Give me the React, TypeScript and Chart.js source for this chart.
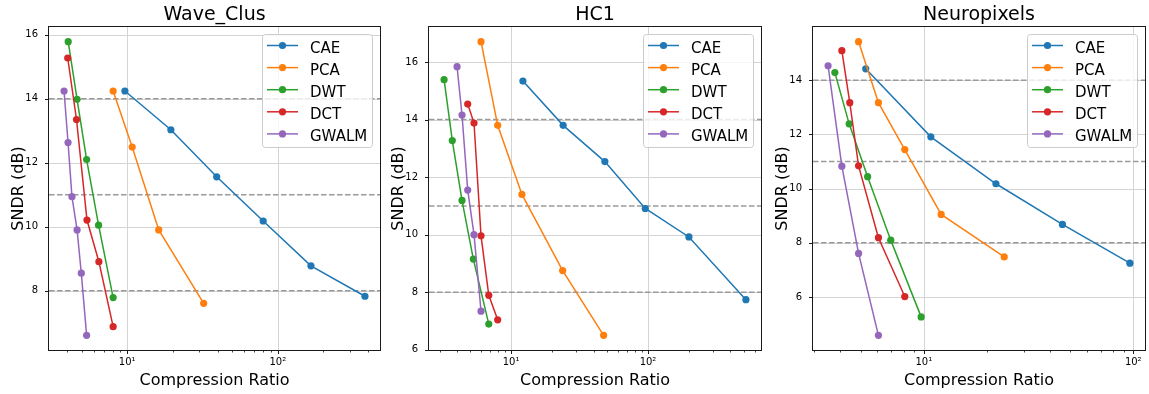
import React, { useEffect, useRef } from "react";
import { Chart, registerables } from "chart.js";

Chart.register(...registerables);

const FONT = "'DejaVu Sans', 'Liberation Sans', sans-serif";
const H = 394;

const METHODS = ["CAE", "PCA", "DWT", "DCT", "GWALM"];
const COLORS = ["#1f77b4", "#ff7f0e", "#2ca02c", "#d62728", "#9467bd"];
const THRESHOLDS = [8, 11, 14];
const X_MAJOR_TICKS = [10, 100];
const X_MAJOR_LABELS = ["10\u00b9", "10\u00b2"];
const Y_LABEL = "SNDR (dB)";
const X_LABEL = "Compression Ratio";

// Wave_Clus
const WC_CAE_CR = [9.66, 19.5, 39.3, 80, 166, 379];
const WC_CAE_SNDR = [14.24, 13.03, 11.56, 10.18, 8.78, 7.83];
const WC_PCA_CR = [8.07, 10.8, 16.2, 32.2];
const WC_PCA_SNDR = [14.24, 12.49, 9.9, 7.61];
const WC_DWT_CR = [4.06, 4.65, 5.38, 6.46, 8.07];
const WC_DWT_SNDR = [15.78, 13.98, 12.1, 10.05, 7.79];
const WC_DCT_CR = [4.03, 4.61, 5.41, 6.49, 8.07];
const WC_DCT_SNDR = [15.27, 13.35, 10.21, 8.91, 6.88];
const WC_GWALM_CR = [3.81, 4.05, 4.3, 4.65, 4.96, 5.38];
const WC_GWALM_SNDR = [14.24, 12.63, 10.94, 9.9, 8.55, 6.61];
const WC_Y_TICKS = [8, 10, 12, 14, 16];

// HC1
const HC_CAE_CR = [12.2, 24.0, 48.4, 95.5, 199, 519];
const HC_CAE_SNDR = [15.34, 13.8, 12.54, 10.91, 9.92, 7.74];
const HC_PCA_CR = [6.03, 7.98, 12.0, 23.8, 47.4];
const HC_PCA_SNDR = [16.71, 13.8, 11.4, 8.75, 6.5];
const HC_DWT_CR = [3.24, 3.72, 4.38, 5.3, 6.87];
const HC_DWT_SNDR = [15.39, 13.27, 11.19, 9.15, 6.89];
const HC_DCT_CR = [4.82, 5.36, 6.03, 6.87, 7.98];
const HC_DCT_SNDR = [14.54, 13.88, 9.96, 7.89, 7.04];
const HC_GWALM_CR = [4.03, 4.38, 4.82, 5.36, 6.03];
const HC_GWALM_SNDR = [15.84, 14.16, 11.55, 10.0, 7.34];
const HC_Y_TICKS = [6, 8, 10, 12, 14, 16];

// Neuropixels
const NP_CAE_CR = [5.28, 10.8, 22.1, 45.9, 96.4];
const NP_CAE_SNDR = [14.42, 11.91, 10.18, 8.68, 7.25];
const NP_PCA_CR = [4.88, 6.07, 8.11, 12.1, 24.2];
const NP_PCA_SNDR = [15.42, 13.17, 11.44, 9.05, 7.48];
const NP_DWT_CR = [3.76, 4.4, 5.39, 6.95, 9.71];
const NP_DWT_SNDR = [14.28, 12.39, 10.44, 8.1, 5.27];
const NP_DCT_CR = [4.06, 4.43, 4.88, 6.07, 8.11];
const NP_DCT_SNDR = [15.09, 13.17, 10.84, 8.19, 6.02];
const NP_GWALM_CR = [3.49, 4.06, 4.88, 6.07];
const NP_GWALM_SNDR = [14.53, 10.83, 7.61, 4.59];
const NP_Y_TICKS = [6, 8, 10, 12, 14];

type Series = { cr: number[]; sndr: number[] };

type PanelProps = {
  left: number;
  width: number;
  plotLeft: number;
  plotRight: number;
  plotTop: number;
  plotBottom: number;
  title: string;
  series: Series[];
  yTicks: number[];
};

function Panel(p: PanelProps) {
  const ref = useRef<HTMLCanvasElement>(null);
  useEffect(() => {
    const allX = p.series.flatMap((s) => s.cr);
    const allY = p.series.flatMap((s) => s.sndr);
    const lx0 = Math.log10(Math.min(...allX));
    const lx1 = Math.log10(Math.max(...allX));
    const mx = (lx1 - lx0) * 0.05;
    const xMin = Math.pow(10, lx0 - mx);
    const xMax = Math.pow(10, lx1 + mx);
    const y0 = Math.min(...allY);
    const y1 = Math.max(...allY);
    const my = (y1 - y0) * 0.05;
    const yMin = y0 - my;
    const yMax = y1 + my;

    const minor: number[] = [];
    for (let k = Math.floor(Math.log10(xMin)); k <= Math.ceil(Math.log10(xMax)); k++) {
      for (let m = 2; m <= 9; m++) {
        const v = m * Math.pow(10, k);
        if (v > xMin && v < xMax) minor.push(v);
      }
    }
    const majors = X_MAJOR_TICKS.filter((v) => v > xMin && v < xMax);
    const xTicks = [...minor, ...majors].sort((a, b) => a - b);

    const deco = {
      id: "deco",
      beforeDatasetsDraw(chart: any) {
        const { ctx, chartArea: a, scales } = chart;
        const x = scales.x;
        const y = scales.y;
        ctx.save();
        ctx.strokeStyle = "#d4d4d4";
        ctx.lineWidth = 1;
        ctx.beginPath();
        for (const v of majors) {
          const px = Math.round(x.getPixelForValue(v)) + 0.5;
          ctx.moveTo(px, a.top);
          ctx.lineTo(px, a.bottom);
        }
        for (const v of p.yTicks) {
          const py = Math.round(y.getPixelForValue(v)) + 0.5;
          ctx.moveTo(a.left, py);
          ctx.lineTo(a.right, py);
        }
        ctx.stroke();
        ctx.setLineDash([5.5, 2.5]);
        ctx.strokeStyle = "#9a9a9a";
        ctx.lineWidth = 1.5;
        ctx.beginPath();
        for (const t of THRESHOLDS) {
          const py = y.getPixelForValue(t);
          ctx.moveTo(a.left, py);
          ctx.lineTo(a.right, py);
        }
        ctx.stroke();
        ctx.restore();
      },
      afterDatasetsDraw(chart: any) {
        const { ctx, chartArea: a, scales } = chart;
        const x = scales.x;
        const y = scales.y;
        ctx.save();
        // border
        ctx.strokeStyle = "#1a1a1a";
        ctx.lineWidth = 1;
        ctx.strokeRect(a.left - 0.5, a.top - 0.5, a.right - a.left + 1, a.bottom - a.top + 1);
        // tick marks
        ctx.beginPath();
        for (const v of p.yTicks) {
          const py = Math.round(y.getPixelForValue(v)) + 0.5;
          ctx.moveTo(a.left - 4, py);
          ctx.lineTo(a.left, py);
        }
        for (const v of majors) {
          const px = Math.round(x.getPixelForValue(v)) + 0.5;
          ctx.moveTo(px, a.bottom);
          ctx.lineTo(px, a.bottom + 4);
        }
        ctx.stroke();
        ctx.lineWidth = 0.8;
        ctx.beginPath();
        for (const v of minor) {
          const px = Math.round(x.getPixelForValue(v)) + 0.5;
          ctx.moveTo(px, a.bottom);
          ctx.lineTo(px, a.bottom + 2.5);
        }
        ctx.stroke();
        // titles
        ctx.fillStyle = "#000";
        ctx.textAlign = "center";
        ctx.textBaseline = "alphabetic";
        ctx.font = `19px ${FONT}`;
        ctx.fillText(p.title, (a.left + a.right) / 2, 20);
        ctx.font = `16px ${FONT}`;
        ctx.fillText(X_LABEL, (a.left + a.right) / 2, a.bottom + 35);
        ctx.save();
        ctx.translate(a.left - 26, (a.top + a.bottom) / 2);
        ctx.rotate(-Math.PI / 2);
        ctx.fillText(Y_LABEL, 0, 0);
        ctx.restore();
        // legend
        const bw = 110;
        const bh = 113;
        const bx = a.right - 8 - bw;
        const by = a.top + 7;
        ctx.beginPath();
        (ctx as any).roundRect(bx + 0.5, by + 0.5, bw, bh, 3);
        ctx.fillStyle = "rgba(255,255,255,0.8)";
        ctx.fill();
        ctx.strokeStyle = "#cccccc";
        ctx.lineWidth = 1;
        ctx.stroke();
        ctx.font = `15px ${FONT}`;
        ctx.textAlign = "left";
        METHODS.forEach((m, i) => {
          const cy = by + 11.5 + i * 22.1;
          ctx.strokeStyle = COLORS[i];
          ctx.lineWidth = 1.5;
          ctx.beginPath();
          ctx.moveTo(bx + 5, cy);
          ctx.lineTo(bx + 36, cy);
          ctx.stroke();
          ctx.fillStyle = COLORS[i];
          ctx.beginPath();
          ctx.arc(bx + 20.5, cy, 3.6, 0, Math.PI * 2);
          ctx.fill();
          ctx.fillStyle = "#000";
          ctx.fillText(m, bx + 48, cy + 7);
        });
        ctx.restore();
      },
    };

    const chart = new Chart(ref.current as HTMLCanvasElement, {
      type: "scatter",
      data: {
        datasets: p.series.map((s, i) => ({
          label: METHODS[i],
          data: s.cr.map((c, j) => ({ x: c, y: s.sndr[j] })),
          showLine: true,
          borderColor: COLORS[i],
          backgroundColor: COLORS[i],
          pointBackgroundColor: COLORS[i],
          pointBorderColor: COLORS[i],
          pointBorderWidth: 0,
          pointRadius: 3.6,
          borderWidth: 1.5,
          tension: 0,
          order: METHODS.length - i,
        })),
      },
      options: {
        responsive: false,
        animation: false,
        events: [],
        layout: {
          padding: { top: p.plotTop, left: 0, right: p.width - p.plotRight, bottom: 0 },
        },
        plugins: {
          legend: { display: false },
          tooltip: { enabled: false },
          title: { display: false },
        },
        scales: {
          x: {
            type: "logarithmic",
            position: "bottom",
            min: xMin,
            max: xMax,
            grid: { display: false, drawTicks: false },
            border: { display: false },
            ticks: {
              autoSkip: false,
              maxRotation: 0,
              minRotation: 0,
              padding: 6,
              color: "#000",
              font: { family: FONT, size: 10 },
              callback: (v: any) => {
                const idx = X_MAJOR_TICKS.indexOf(Number(v));
                return idx >= 0 ? X_MAJOR_LABELS[idx] : "";
              },
            },
            afterBuildTicks: (s: any) => {
              s.ticks = xTicks.map((v) => ({ value: v }));
            },
            afterFit: (s: any) => {
              s.height = H - p.plotBottom;
            },
          },
          y: {
            type: "linear",
            position: "left",
            min: yMin,
            max: yMax,
            grid: { display: false, drawTicks: false },
            border: { display: false },
            ticks: {
              padding: 11,
              color: "#000",
              font: { family: FONT, size: 10 },
              callback: (v: any) => String(v),
            },
            afterBuildTicks: (s: any) => {
              s.ticks = p.yTicks.map((v) => ({ value: v }));
            },
            afterFit: (s: any) => {
              s.width = p.plotLeft;
            },
          },
        },
      } as any,
      plugins: [deco],
    });
    return () => chart.destroy();
  }, []);
  return (
    <canvas
      ref={ref}
      width={p.width}
      height={H}
      style={{ position: "absolute", left: p.left, top: 0, width: p.width, height: H }}
    />
  );
}

export default function App() {
  const wc: Series[] = [
    { cr: WC_CAE_CR, sndr: WC_CAE_SNDR },
    { cr: WC_PCA_CR, sndr: WC_PCA_SNDR },
    { cr: WC_DWT_CR, sndr: WC_DWT_SNDR },
    { cr: WC_DCT_CR, sndr: WC_DCT_SNDR },
    { cr: WC_GWALM_CR, sndr: WC_GWALM_SNDR },
  ];
  const hc: Series[] = [
    { cr: HC_CAE_CR, sndr: HC_CAE_SNDR },
    { cr: HC_PCA_CR, sndr: HC_PCA_SNDR },
    { cr: HC_DWT_CR, sndr: HC_DWT_SNDR },
    { cr: HC_DCT_CR, sndr: HC_DCT_SNDR },
    { cr: HC_GWALM_CR, sndr: HC_GWALM_SNDR },
  ];
  const np: Series[] = [
    { cr: NP_CAE_CR, sndr: NP_CAE_SNDR },
    { cr: NP_PCA_CR, sndr: NP_PCA_SNDR },
    { cr: NP_DWT_CR, sndr: NP_DWT_SNDR },
    { cr: NP_DCT_CR, sndr: NP_DCT_SNDR },
    { cr: NP_GWALM_CR, sndr: NP_GWALM_SNDR },
  ];
  return (
    <div style={{ position: "absolute", left: 0, top: 0, width: 1149, height: H, background: "#fff", overflow: "hidden" }}>
      <Panel left={0} width={384} plotLeft={49} plotRight={380} plotTop={27} plotBottom={350} title="Wave_Clus" series={wc} yTicks={WC_Y_TICKS} />
      <Panel left={384} width={384} plotLeft={45} plotRight={377} plotTop={27} plotBottom={350} title="HC1" series={hc} yTicks={HC_Y_TICKS} />
      <Panel left={768} width={381} plotLeft={45} plotRight={377} plotTop={27} plotBottom={350} title="Neuropixels" series={np} yTicks={NP_Y_TICKS} />
    </div>
  );
}
